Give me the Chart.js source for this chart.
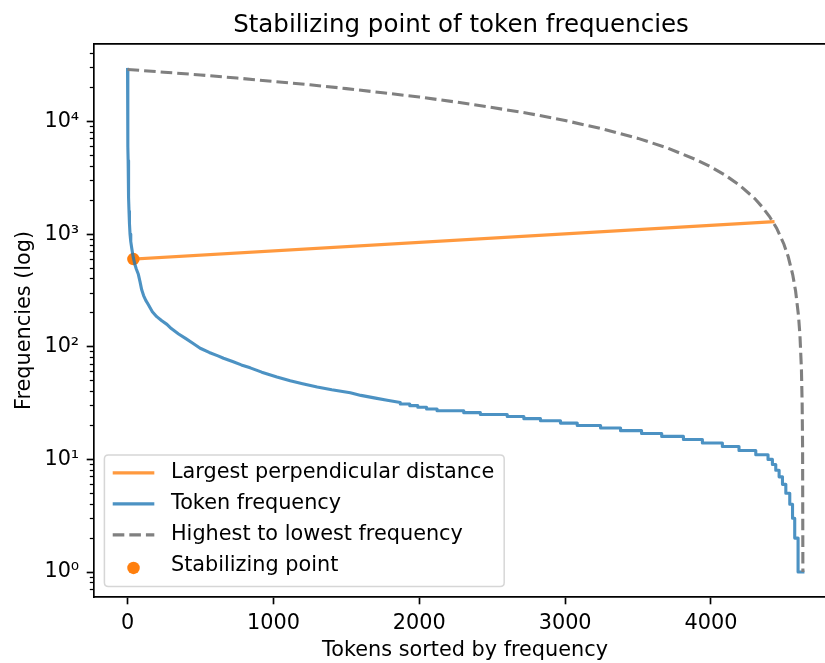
<!DOCTYPE html>
<html><head><meta charset="utf-8">
<script src="https://cdn.jsdelivr.net/npm/chart.js@4"></script>
<style>
html,body{margin:0;padding:0;background:#fff;overflow:hidden;}
#wrap{width:825px;height:663px;overflow:hidden;position:relative;}
canvas{display:block;}
</style></head><body>
<div id="wrap"><canvas id="c" width="845" height="663"></canvas></div>
<script>
const titleText = 'Stabilizing point of token frequencies';
const xTitle = 'Tokens sorted by frequency';
const yTitle = 'Frequencies (log)';

// Token frequency (sorted), rank -> frequency
const tokenRank = [0,1,2,3,4,6,8,10,13,17,22,28,34,40,50,60,74,85,97,110,125,143,170,200,235,270,300,350,400,450,498,
  560,620,658,720,780,841,920,1024,1115,1200,1300,1400,1527,1600,1700,1780,1870,
  1870,1935, 1935,1990, 1990,2050, 2050,2122, 2122,2305, 2305,2419, 2419,2603, 2603,2717, 2717,2831,
  2831,2968, 2968,3083, 3083,3243, 3243,3380, 3380,3524, 3524,3662, 3662,3811, 3811,3941, 3941,4078,
  4078,4192, 4192,4307, 4307,4391, 4391,4421, 4421,4444, 4444,4467, 4467,4490, 4490,4513, 4513,4540,
  4540,4559, 4559,4574, 4574,4597, 4597,4630];
const tokenFreq = [29000,15000,9000,6000,4500,3000,2100,1600,1250,1000,860,760,680,615,540,490,440,380,320,285,258,236,205,185,170,158,145,130,118,107,97,
  89,83,79,74,69,65,59.5,54,50,47,44,41.5,39,37,35,33.5,32,
  31,31, 30,30, 29,29, 28,28, 27,27, 26,26, 25,25, 24,24, 23,23,
  22,22, 21,21, 20,20, 19,19, 18,18, 17,17, 16,16, 15,15, 14,14,
  13,13, 12,12, 11,11, 10,10, 9,9, 8,8, 7,7, 6,6, 5,5,
  4,4, 3,3, 2,2, 1,1];

// Highest to lowest frequency (dashed)
const spanRank = [0,250,500,750,1000,1250,1500,1750,2000,2250,2500,2750,3000,3250,3500,3700,3900,4000,4100,4200,
  4300,4350,4400,4450,4500,4530,4560,4580,4600,4610,4620,4625,4628,4630];
const spanFreq = [29000,27400,25900,24300,22700,21200,19600,18000,16500,14900,13300,11800,10200,8640,7080,5830,4570,3950,3320,2690,
  2070,1750,1440,1130,814,626,438,313,188,125,63,31,12.5,1];

// Largest perpendicular distance
const perpRank = [40,4425];
const perpFreq = [600,1290];

// Stabilizing point
const stabRank = [40];
const stabFreq = [600];

// ticks
const xTicks = [0,1000,2000,3000,4000];
const xTickLabels = ['0','1000','2000','3000','4000'];
const yMajorTicks = [1,10,100,1000,10000];
const yMajorLabels = ['10\u2070','10\u00B9','10\u00B2','10\u00B3','10\u2074'];
const yMinorTicks = [0.7,0.8,0.9,2,3,4,5,6,7,8,9,20,30,40,50,60,70,80,90,200,300,400,500,600,700,800,900,
  2000,3000,4000,5000,6000,7000,8000,9000,20000,30000,40000];

const FONT = 'DejaVu Sans';
const FS = 20.8;
const pts = (xs, ys) => xs.map((x,i)=>({x, y: ys[i]}));

const frame = {
  id:'frame',
  afterLayout(chart){
    // centre the title over the visible part of the axes box
    if (chart.titleBlock) chart.titleBlock.left -= 8;
  },
  afterDatasetsDraw(chart){
    const {ctx, chartArea:a} = chart;
    ctx.save();
    ctx.strokeStyle = '#000'; ctx.lineWidth = 1.67;
    ctx.beginPath();
    ctx.moveTo(a.left, a.top); ctx.lineTo(a.right, a.top); ctx.lineTo(a.right, a.bottom);
    ctx.stroke();
    ctx.restore();
  }
};

const legendOrder = [0,1,2,3];
const mplLegend = {
  id:'mplLegend',
  afterDraw(chart){
    const {ctx, chartArea:a} = chart;
    ctx.save();
    ctx.font = FS + 'px "' + FONT + '"';
    const items = legendOrder.map(i => chart.data.datasets[i]);
    const tw = Math.max(...items.map(d => ctx.measureText(d.label).width));
    const pad = 0.4*FS, hl = 2*FS, htp = 0.8*FS, rowH = 31;
    const w = pad + hl + htp + tw + 10;
    const h = 131.7;
    const x0 = a.left + 0.5*FS, y0 = a.bottom - 0.5*FS - h;
    const r = 4;
    ctx.beginPath();
    ctx.moveTo(x0+r, y0); ctx.lineTo(x0+w-r, y0); ctx.quadraticCurveTo(x0+w, y0, x0+w, y0+r);
    ctx.lineTo(x0+w, y0+h-r); ctx.quadraticCurveTo(x0+w, y0+h, x0+w-r, y0+h);
    ctx.lineTo(x0+r, y0+h); ctx.quadraticCurveTo(x0, y0+h, x0, y0+h-r);
    ctx.lineTo(x0, y0+r); ctx.quadraticCurveTo(x0, y0, x0+r, y0);
    ctx.closePath();
    ctx.fillStyle = 'rgba(255,255,255,0.8)'; ctx.fill();
    ctx.strokeStyle = 'rgba(204,204,204,0.8)'; ctx.lineWidth = 1.5; ctx.stroke();
    items.forEach((d, i) => {
      const cy = y0 + 18 + i*rowH;
      const hx = x0 + pad;
      if (d.type === 'scatter') {
        ctx.beginPath();
        ctx.arc(hx + hl/2, cy + 2, d.pointRadius, 0, Math.PI*2);
        ctx.fillStyle = d.backgroundColor; ctx.fill();
      } else {
        ctx.beginPath();
        ctx.setLineDash(d.borderDash || []);
        ctx.lineCap = 'butt';
        ctx.strokeStyle = d.borderColor; ctx.lineWidth = d.borderWidth;
        ctx.moveTo(hx, cy); ctx.lineTo(hx + hl, cy); ctx.stroke();
        ctx.setLineDash([]);
      }
      ctx.fillStyle = '#000';
      ctx.textBaseline = 'middle'; ctx.textAlign = 'left';
      ctx.fillText(d.label, hx + hl + htp, cy);
    });
    ctx.restore();
  }
};

new Chart(document.getElementById('c'), {
  type: 'line',
  data: {
    datasets: [
      { label:'Largest perpendicular distance', data: pts(perpRank, perpFreq),
        borderColor:'rgba(255,127,14,0.8)', borderWidth:3.1, pointRadius:0, order:3, borderCapStyle:'square' },
      { label:'Token frequency', data: pts(tokenRank, tokenFreq),
        borderColor:'rgba(31,119,180,0.8)', borderWidth:3.1, pointRadius:0, order:2, borderJoinStyle:'round', borderCapStyle:'square' },
      { label:'Highest to lowest frequency', data: pts(spanRank, spanFreq),
        borderColor:'#808080', borderDash:[11.6,5], borderWidth:3.1, pointRadius:0, order:1, borderCapStyle:'butt' },
      { type:'scatter', label:'Stabilizing point', data: pts(stabRank, stabFreq),
        backgroundColor:'#ff7f0e', borderWidth:0, pointRadius:6.25, order:4 }
    ]
  },
  options: {
    responsive:false, animation:false, devicePixelRatio:1, events:[],
    layout:{ padding:{ left:0, right:9, top:0, bottom:0 } },
    plugins:{
      legend:{ display:false },
      tooltip:{ enabled:false },
      title:{ display:true, text:titleText, color:'#000', fullSize:false,
        font:{ family:FONT, size:24.5, weight:'normal' }, padding:{ top:10.5, bottom:4 } }
    },
    scales:{
      x:{
        type:'linear', min:-230, max:4857,
        afterBuildTicks: s => { s.ticks = xTicks.map(v => ({value:v})); },
        afterFit: s => { s.height = 66; },
        grid:{ drawOnChartArea:false, drawTicks:true, tickLength:7.3, tickWidth:1.67, tickColor:'#000' },
        border:{ display:true, color:'#000', width:1.67 },
        ticks:{ font:{ family:FONT, size:FS }, color:'#000', padding:6.5, maxRotation:0, autoSkip:false,
          callback: (v, i) => xTickLabels[i] },
        title:{ display:true, text:xTitle, color:'#000', font:{ family:FONT, size:FS }, padding:{ top:0, bottom:0 } }
      },
      y:{
        type:'logarithmic', position:'left', weight:2, min:0.6088, max:48870,
        afterBuildTicks: s => { s.ticks = yMajorTicks.map(v => ({value:v})); },
        afterFit: s => { s.width = 94; },
        grid:{ drawOnChartArea:false, drawTicks:true, tickLength:7.3, tickWidth:1.67, tickColor:'#000' },
        border:{ display:true, color:'#000', width:1.67 },
        ticks:{ font:{ family:FONT, size:FS }, color:'#000', padding:7.5, autoSkip:false,
          callback: (v, i) => yMajorLabels[i] },
        title:{ display:true, text:yTitle, color:'#000', font:{ family:FONT, size:FS }, padding:{ top:12, bottom:0 } }
      },
      y2:{
        type:'logarithmic', position:'left', weight:1, min:0.6088, max:48870,
        afterBuildTicks: s => { s.ticks = yMinorTicks.map(v => ({value:v})); },
        afterFit: s => { s.width = 0; },
        grid:{ drawOnChartArea:false, drawTicks:true, tickLength:4.2, tickWidth:1.25, tickColor:'#000' },
        border:{ display:false },
        ticks:{ display:false }
      }
    }
  },
  plugins:[frame, mplLegend]
});
</script>
</body></html>
